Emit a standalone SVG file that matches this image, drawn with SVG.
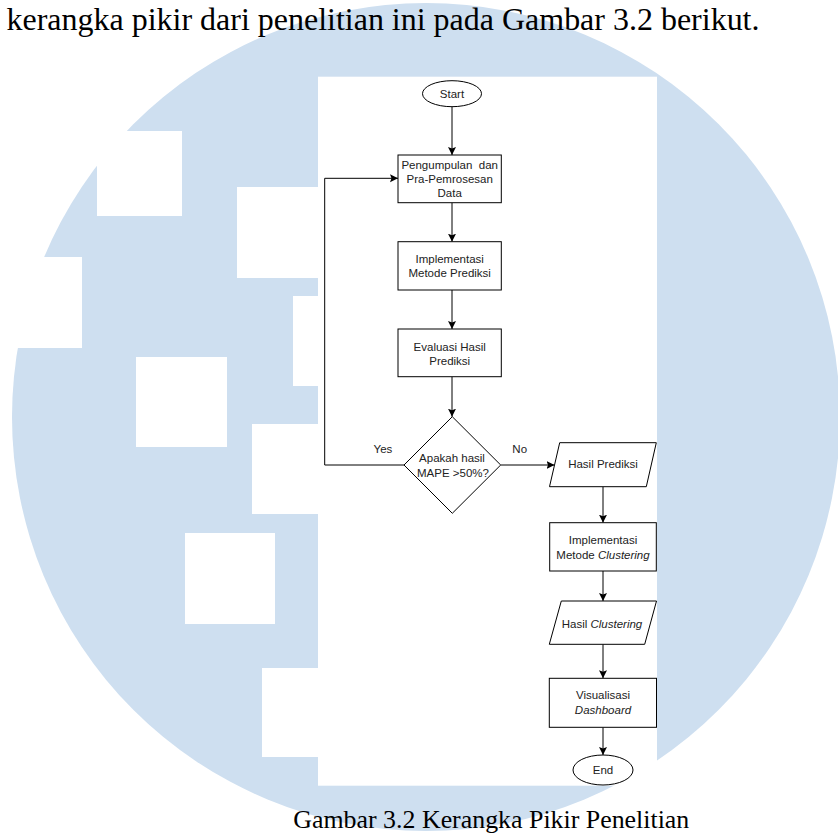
<svg xmlns="http://www.w3.org/2000/svg" width="838" height="835" viewBox="0 0 838 835">
<style>
.bg{fill:#cedff0}
.wm{fill:#ffffff}
.shape{fill:#ffffff;stroke:#000000;stroke-width:1}
.t{font-family:"Liberation Sans",Arial,sans-serif;font-size:11.5px;fill:#222222;text-anchor:middle}
.it{font-style:italic}
.conn{fill:none;stroke:#000000;stroke-width:1}
.serif{font-family:"Liberation Serif","Times New Roman",serif;fill:#000000}
</style>
<defs>
<marker id="arrow" markerUnits="userSpaceOnUse" markerWidth="9" markerHeight="9" refX="8" refY="4" orient="auto">
<path d="M0,0 L8,4 L0,8 L1.5,4 Z" fill="#000000"/>
</marker>
</defs>
<rect x="0" y="0" width="838" height="835" fill="#ffffff"/>
<g id="watermark">
<circle class="bg" cx="426" cy="417" r="414"/>
<rect class="wm" x="97" y="131" width="85" height="85"/>
<rect class="wm" x="237" y="187" width="90" height="91"/>
<rect class="wm" x="0" y="257" width="82" height="91"/>
<rect class="wm" x="293" y="296" width="40" height="90"/>
<rect class="wm" x="136" y="357" width="91" height="90"/>
<rect class="wm" x="252" y="424" width="80" height="90"/>
<rect class="wm" x="185" y="533" width="90" height="91"/>
<rect class="wm" x="262" y="668" width="70" height="89"/>
</g>
<text class="serif" x="6.5" y="29.5" font-size="32" textLength="753" lengthAdjust="spacingAndGlyphs">kerangka pikir dari penelitian ini pada Gambar 3.2 berikut.</text>
<rect id="panel" x="318" y="76.7" width="339" height="709" fill="#ffffff"/>
<g id="connectors">
<line class="conn" x1="452" y1="106.7" x2="452" y2="155" marker-end="url(#arrow)"/>
<line class="conn" x1="452" y1="202.7" x2="452" y2="241.7" marker-end="url(#arrow)"/>
<line class="conn" x1="452" y1="290" x2="452" y2="329" marker-end="url(#arrow)"/>
<line class="conn" x1="452" y1="376.7" x2="452" y2="416.7" marker-end="url(#arrow)"/>
<polyline class="conn" points="404,465 324.7,465 324.7,178.3 398,178.3" marker-end="url(#arrow)"/>
<line class="conn" x1="500.7" y1="465" x2="554.5" y2="465" marker-end="url(#arrow)"/>
<line class="conn" x1="603" y1="486.7" x2="603" y2="522.7" marker-end="url(#arrow)"/>
<line class="conn" x1="603" y1="571" x2="603" y2="601" marker-end="url(#arrow)"/>
<line class="conn" x1="603" y1="644.3" x2="603" y2="678.3" marker-end="url(#arrow)"/>
<line class="conn" x1="603" y1="727.3" x2="603" y2="755" marker-end="url(#arrow)"/>
<text class="t" x="383" y="453.3">Yes</text>
<text class="t" x="519.7" y="453.3">No</text>
</g>
<g id="start">
<ellipse class="shape" cx="452" cy="93.7" rx="29.5" ry="13"/>
<text class="t" x="452" y="97.5">Start</text>
</g>
<g id="pengumpulan">
<rect class="shape" x="398" y="155" width="103.3" height="47.7"/>
<text class="t" x="449.7" y="169">Pengumpulan&#160; dan</text>
<text class="t" x="449.7" y="182.7">Pra-Pemrosesan</text>
<text class="t" x="449.7" y="196.7">Data</text>
</g>
<g id="implementasi-prediksi">
<rect class="shape" x="398" y="241.7" width="103.3" height="48.3"/>
<text class="t" x="449.7" y="262.7">Implementasi</text>
<text class="t" x="449.7" y="276.7">Metode Prediksi</text>
</g>
<g id="evaluasi">
<rect class="shape" x="398" y="329" width="103.3" height="47.7"/>
<text class="t" x="449.7" y="351">Evaluasi Hasil</text>
<text class="t" x="449.7" y="364.7">Prediksi</text>
</g>
<g id="decision">
<polygon class="shape" points="452.3,416.7 500.7,465 452.3,513.3 404,465"/>
<text class="t" x="452" y="461.7">Apakah hasil</text>
<text class="t" x="453" y="476.7">MAPE &gt;50%?</text>
</g>
<g id="hasil-prediksi">
<polygon class="shape" points="559.7,442.7 656.3,442.7 646.3,486.7 549.5,486.7"/>
<text class="t" x="603" y="468.3">Hasil Prediksi</text>
</g>
<g id="implementasi-clustering">
<rect class="shape" x="549.7" y="522.7" width="106.6" height="48.3"/>
<text class="t" x="603" y="544.3">Implementasi</text>
<text class="t" x="603" y="559">Metode <tspan class="it">Clustering</tspan></text>
</g>
<g id="hasil-clustering">
<polygon class="shape" points="561.3,601 656.5,601 644.7,644.3 549.3,644.3"/>
<text class="t" x="602" y="627.7">Hasil <tspan class="it">Clustering</tspan></text>
</g>
<g id="visualisasi">
<rect class="shape" x="549.3" y="678.3" width="107.2" height="49"/>
<text class="t" x="603" y="699">Visualisasi</text>
<text class="t it" x="603" y="714">Dashboard</text>
</g>
<g id="end">
<ellipse class="shape" cx="603" cy="770" rx="30" ry="15"/>
<text class="t" x="603" y="774.3">End</text>
</g>
<text class="serif" x="293.3" y="828" font-size="26" textLength="396" lengthAdjust="spacingAndGlyphs">Gambar 3.2 Kerangka Pikir Penelitian</text>
</svg>
